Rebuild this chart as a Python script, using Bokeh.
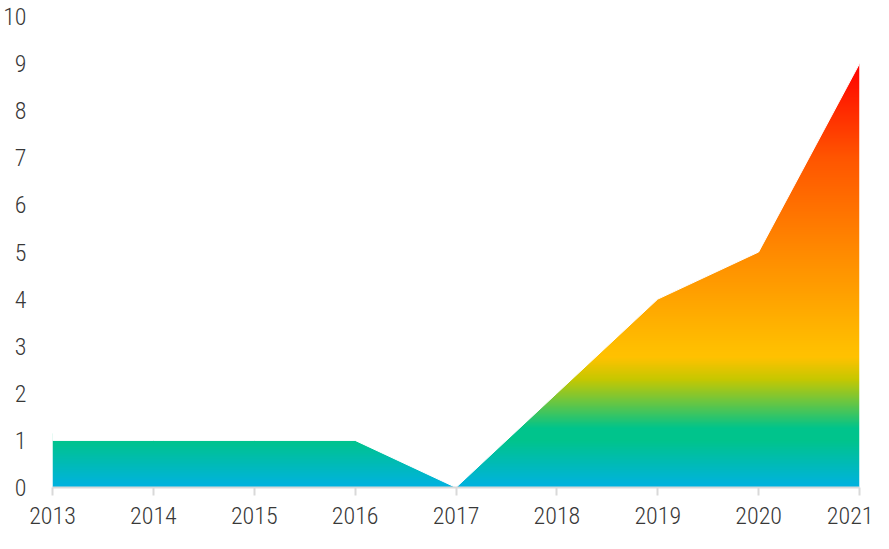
import numpy as np
from bokeh.plotting import figure
from bokeh.models import FixedTicker, Range1d
from bokeh.embed import file_html
from bokeh.resources import INLINE

# ---- data ----
years = [2013, 2014, 2015, 2016, 2017, 2018, 2019, 2020, 2021]
values = [1, 1, 1, 1, 0, 2, 4, 5, 9]
y_ticks = [0, 1, 2, 3, 4, 5, 6, 7, 8, 9, 10]
y_max = 10

# gradient stops: (value, rgb)
grad_vals = [0.0, 1.0, 1.25, 2.3, 2.75, 3.0, 5.0, 7.0, 9.0]
grad_r = [0, 0, 0, 200, 255, 255, 255, 255, 255]
grad_g = [178, 196, 196, 200, 194, 190, 138, 85, 0]
grad_b = [226, 140, 140, 0, 0, 0, 0, 0, 0]

FONT = "'Roboto Condensed Light', 'Roboto Condensed', 'Liberation Sans Narrow', 'Roboto'"

p = figure(width=873, height=533, output_backend="svg", toolbar_location=None,
           x_range=Range1d(min(years), max(years)), y_range=Range1d(0, y_max),
           min_border_left=48, min_border_right=14, min_border_top=16, min_border_bottom=46)
p.outline_line_color = None
p.xgrid.visible = False
p.ygrid.visible = False
p.background_fill_color = "white"

# gradient image, transparent well above the data line
N, M = 900, 800
top = max(values)
ys = (np.arange(N) + 0.5) / N * top
xs = min(years) + (np.arange(M) + 0.5) / M * (max(years) - min(years))
line = np.interp(xs, years, values)
r = np.interp(ys, grad_vals, grad_r).astype(np.uint8)
g = np.interp(ys, grad_vals, grad_g).astype(np.uint8)
b = np.interp(ys, grad_vals, grad_b).astype(np.uint8)
img = np.empty((N, M), dtype=np.uint32)
view = img.view(dtype=np.uint8).reshape((N, M, 4))
view[:, :, 0] = r[:, None]
view[:, :, 1] = g[:, None]
view[:, :, 2] = b[:, None]
view[:, :, 3] = np.where(ys[:, None] <= line[None, :] + 0.15, 255, 0).astype(np.uint8)
p.image_rgba(image=[img], x=min(years), y=0, dw=max(years) - min(years), dh=top)

# white mask above the line (smooth edge)
mask_x = years + [max(years), min(years)]
mask_y = values + [y_max, y_max]
p.patch(x=mask_x, y=mask_y, fill_color="white", fill_alpha=1.0,
        line_color="white", line_width=1)

# axes
p.xaxis.ticker = FixedTicker(ticks=years)
p.xaxis.axis_line_color = "#d9d9d9"
p.xaxis.axis_line_width = 2
p.xaxis.major_tick_line_color = "#d9d9d9"
p.xaxis.major_tick_line_width = 2
p.xaxis.major_tick_in = 0
p.xaxis.major_tick_out = 8
p.xaxis.minor_tick_line_color = None
p.xaxis.major_label_standoff = 11
p.xaxis.major_label_text_font = FONT
p.xaxis.major_label_text_font_size = "24px"
p.xaxis.major_label_text_color = "#383838"

p.yaxis.ticker = FixedTicker(ticks=y_ticks)
p.yaxis.axis_line_color = None
p.yaxis.major_tick_line_color = None
p.yaxis.minor_tick_line_color = None
p.yaxis.major_tick_in = 0
p.yaxis.major_tick_out = 0
p.yaxis.major_label_standoff = 26
p.yaxis.major_label_text_font = FONT
p.yaxis.major_label_text_font_size = "24px"
p.yaxis.major_label_text_color = "#383838"

open("out.html", "w").write(file_html(p, INLINE))
